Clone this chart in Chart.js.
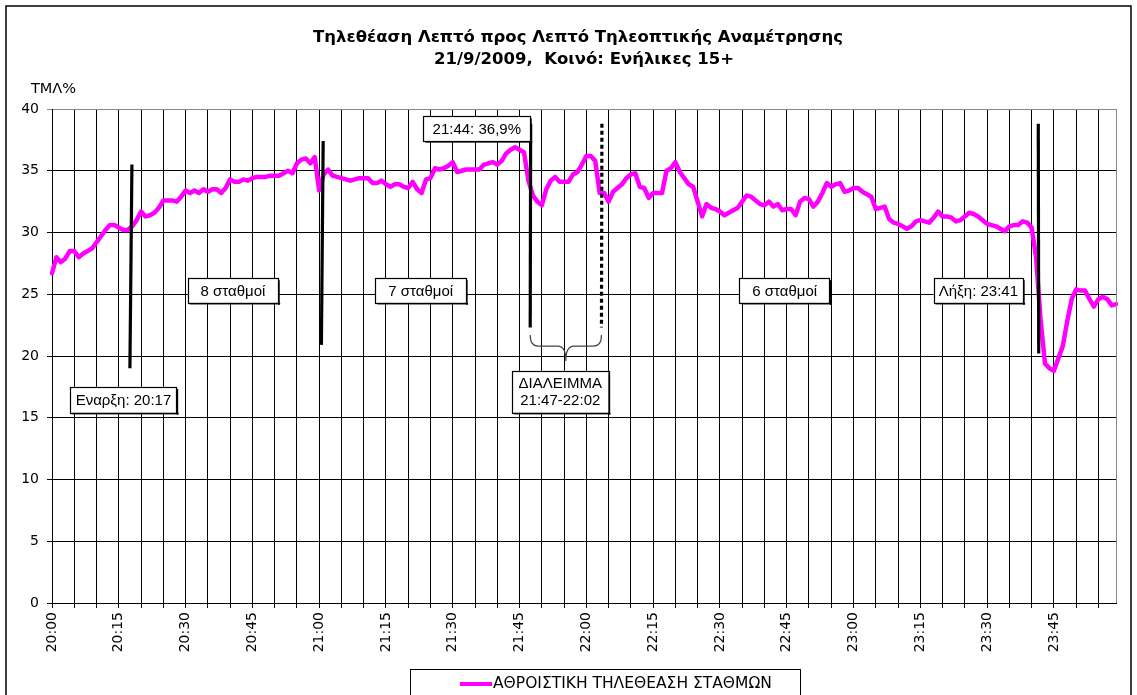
<!DOCTYPE html>
<html><head><meta charset="utf-8">
<script src="https://cdn.jsdelivr.net/npm/chart.js@4.4.0/dist/chart.umd.min.js"></script>
<style>html,body{margin:0;padding:0;background:#fff;}#wrap{width:1137px;height:695px;position:relative;}</style>
</head><body><div id="wrap"><canvas id="c" width="1137" height="695"></canvas></div>
<script>
// ---------- DATA ----------
const titleLines = ['Τηλεθέαση Λεπτό προς Λεπτό Τηλεοπτικής Αναμέτρησης', '21/9/2009,  Κοινό: Ενήλικες 15+'];
const yUnitLabel = 'ΤΜΛ%';
const seriesName = 'ΑΘΡΟΙΣΤΙΚΗ ΤΗΛΕΘΕΑΣΗ ΣΤΑΘΜΩΝ';
// one category per minute, 20:00 .. 23:59
const categories = [];
for (let h = 20; h < 24; h++) for (let mm = 0; mm < 60; mm++) categories.push(h + ':' + String(mm).padStart(2, '0'));
const tickLabels = ['20:00','20:15','20:30','20:45','21:00','21:15','21:30','21:45','22:00','22:15','22:30','22:45','23:00','23:15','23:30','23:45'];
const yTicks = [0,5,10,15,20,25,30,35,40];
const ratings = [
 26.7,28.0,27.6,27.9,28.5,28.5,28.0,28.3,28.5,28.7, 29.2,29.7,30.2,30.6,30.6,30.4,30.2,30.2,30.5,31.0,
 31.7,31.3,31.4,31.6,32.0,32.6,32.6,32.6,32.5,32.9, 33.4,33.2,33.4,33.2,33.5,33.3,33.5,33.5,33.2,33.6,
 34.3,34.1,34.1,34.3,34.2,34.4,34.5,34.5,34.5,34.6, 34.6,34.6,34.8,35.0,34.8,35.6,35.9,36.0,35.6,36.1,
 33.4,34.7,35.1,34.6,34.5,34.4,34.3,34.2,34.3,34.4, 34.4,34.4,34.0,34.0,34.2,33.9,33.7,33.9,33.9,33.7,
 33.6,34.1,33.5,33.2,34.3,34.4,35.2,35.1,35.2,35.4, 35.7,34.9,35.0,35.1,35.1,35.1,35.1,35.5,35.6,35.7,
 35.5,35.8,36.4,36.7,36.9,36.7,36.5,34.2,33.0,32.5, 32.2,33.5,34.2,34.5,34.1,34.1,34.1,34.7,34.9,35.5,
 36.2,36.2,35.8,33.2,33.2,32.5,33.3,33.6,33.9,34.4, 34.7,34.8,33.7,33.6,32.8,33.2,33.2,33.2,35.0,35.2,
 35.7,34.9,34.4,33.9,33.7,32.5,31.3,32.3,32.0,31.9, 31.7,31.4,31.6,31.8,32.0,32.5,33.0,32.9,32.6,32.3,
 32.2,32.5,32.1,32.3,31.8,31.9,31.9,31.4,32.5,32.8, 32.7,32.1,32.5,33.2,34.0,33.7,33.9,34.0,33.3,33.4,
 33.6,33.6,33.3,33.1,32.9,31.9,32.0,32.1,31.1,30.8, 30.7,30.5,30.3,30.5,30.9,31.0,30.9,30.8,31.2,31.7,
 31.3,31.3,31.2,30.9,31.0,31.3,31.6,31.5,31.3,31.0, 30.7,30.6,30.5,30.3,30.1,30.5,30.6,30.6,30.9,30.8,
 30.4,28.0,23.0,19.4,19.0,18.8,19.8,20.8,22.8,24.6, 25.4,25.3,25.3,24.6,24.0,24.6,24.8,24.6,24.1,24.2
];
// annotation content
const markerTexts = ['Εναρξη: 20:17','8 σταθμοί','7 σταθμοί','21:44: 36,9%','6 σταθμοί','Λήξη: 23:41'];
const breakText = ['ΔΙΑΛΕΙΜΜΑ','21:47-22:02'];

// ---------- annotation layout (data units: minute index / rating value) ----------
const textBoxes = [
  {t:0, m0:4.1, m1:28.0, v0:15.4, v1:17.5},
  {t:1, m0:30.5, m1:50.8, v0:24.3, v1:26.3},
  {t:2, m0:72.6, m1:93.0, v0:24.3, v1:26.3},
  {t:3, m0:83.4, m1:107.4, v0:37.4, v1:39.4},
  {t:4, m0:154.4, m1:174.7, v0:24.3, v1:26.3},
  {t:5, m0:198.0, m1:218.1, v0:24.3, v1:26.3}
];
const breakBox = {m0:103.3, m1:125.0, v0:15.4, v1:18.8};
const bars = [
  {mTop:17.95, mBot:17.5, vTop:35.5, vBot:19.0, dotted:false},
  {mTop:60.9, mBot:60.5, vTop:37.4, vBot:20.9, dotted:false},
  {mTop:107.5, mBot:107.4, vTop:38.8, vBot:22.3, dotted:false},
  {mTop:123.5, mBot:123.4, vTop:38.8, vBot:22.3, dotted:true},
  {mTop:221.5, mBot:221.6, vTop:38.8, vBot:20.2, dotted:false}
];
const brace = {m0:107.4, m1:123.4, vTop:21.7, vMid:20.8, vTip:19.6};

const TICK_FONT = {family:'DejaVu Sans', size:14};
const NOTE_FONT = '15px "Liberation Sans", Arial, sans-serif';

const overlay = {
  id:'overlay',
  beforeDraw(chart){
    const c = chart.ctx; c.save(); c.fillStyle='#fff'; c.fillRect(0,0,chart.width,chart.height); c.restore();
  },
  afterDatasetsDraw(chart){
    const c = chart.ctx, xs = chart.scales.x, ys = chart.scales.y;
    const X = m => xs.getPixelForValue(m), Y = v => ys.getPixelForValue(v);
    c.save();
    bars.forEach(b => {
      c.beginPath(); c.strokeStyle='#000'; c.lineWidth=3.2;
      c.setLineDash(b.dotted ? [4,3] : []);
      c.moveTo(X(b.mTop), Y(b.vTop)); c.lineTo(X(b.mBot), Y(b.vBot)); c.stroke();
    });
    c.setLineDash([]);
    const bl = X(brace.m0), br = X(brace.m1), bc = (bl+br)/2, yt = Y(brace.vTop), ym = Y(brace.vMid), yp = Y(brace.vTip);
    c.beginPath(); c.strokeStyle='#444'; c.lineWidth=1.2;
    c.moveTo(bl, yt); c.quadraticCurveTo(bl, ym, bl+8, ym); c.lineTo(bc-8, ym); c.quadraticCurveTo(bc, ym, bc, yp);
    c.quadraticCurveTo(bc, ym, bc+8, ym); c.lineTo(br-8, ym); c.quadraticCurveTo(br, ym, br, yt); c.stroke();
    const drawBox = (x0, y0, x1, y1) => {
      c.fillStyle='#fff'; c.fillRect(x0, y0, x1-x0, y1-y0);
      c.fillStyle='#000';
      c.fillRect(x0+2, y1, x1-x0, 1.5); c.fillRect(x1, y0+2, 1.5, y1-y0);
      c.strokeStyle='#000'; c.lineWidth=1.2; c.strokeRect(Math.round(x0)+0.5, Math.round(y0)+0.5, Math.round(x1-x0), Math.round(y1-y0));
    };
    c.font = NOTE_FONT; c.textBaseline='middle'; c.textAlign='center';
    textBoxes.forEach(b => {
      const x0 = X(b.m0), x1 = X(b.m1), y0 = Y(b.v1), y1 = Y(b.v0);
      drawBox(x0, y0, x1, y1);
      c.fillStyle='#000'; c.fillText(markerTexts[b.t], (x0+x1)/2, (y0+y1)/2+1);
    });
    {
      const x0 = X(breakBox.m0), x1 = X(breakBox.m1), y0 = Y(breakBox.v1), y1 = Y(breakBox.v0);
      drawBox(x0, y0, x1, y1);
      c.fillStyle='#000';
      c.fillText(breakText[0], (x0+x1)/2, y0 + (y1-y0)*0.3);
      c.fillText(breakText[1], (x0+x1)/2, y0 + (y1-y0)*0.72);
    }
    c.restore();
  },
  afterDraw(chart){
    const c = chart.ctx, a = chart.chartArea;
    c.save();
    c.strokeStyle='#888'; c.lineWidth=1;
    c.beginPath(); c.moveTo(Math.round(a.right)+0.5, a.top); c.lineTo(Math.round(a.right)+0.5, a.bottom); c.stroke();
    c.strokeStyle='#000'; c.lineWidth=1.5;
    c.beginPath(); c.moveTo(6, 700); c.lineTo(6, 6); c.lineTo(1131, 6); c.lineTo(1131, 700); c.stroke();
    c.fillStyle='#000'; c.textAlign='center'; c.textBaseline='middle';
    c.font = 'bold 16.5px "DejaVu Sans", sans-serif';
    c.fillText(titleLines[0], 578, 38);
    c.fillText(titleLines[1], 584, 60);
    c.font = '14.5px "DejaVu Sans", sans-serif';
    c.textAlign='left';
    c.fillText(yUnitLabel, 31, 89);
    c.strokeStyle='#000'; c.lineWidth=1;
    c.strokeRect(410.5, 669.5, 390, 40);
    c.strokeStyle = chart.data.datasets[0].borderColor; c.lineWidth=4;
    c.beginPath(); c.moveTo(460, 684); c.lineTo(492, 684); c.stroke();
    c.fillStyle='#000'; c.font='15.5px "DejaVu Sans", sans-serif'; c.textAlign='left';
    c.fillText(chart.data.datasets[0].label, 493, 684);
    c.restore();
  }
};

new Chart(document.getElementById('c'), {
  type:'line',
  data:{ labels:categories, datasets:[{
    label:seriesName, data:ratings, borderColor:'#FF00FF', borderWidth:4.5,
    pointRadius:0, tension:0, borderJoinStyle:'round', borderCapStyle:'round', fill:false
  }]},
  options:{
    responsive:false, animation:false, devicePixelRatio:1,
    layout:{ padding:{left:6, right:16, top:109, bottom:0} },
    plugins:{ legend:{display:false}, title:{display:false}, tooltip:{enabled:false} },
    scales:{
      x:{
        type:'category', offset:false,
        grid:{ color: ctx => (ctx.index % 5 === 0 ? '#000' : 'rgba(0,0,0,0)'), tickLength:5, lineWidth:1 },
        border:{ color:'#000', width:1 },
        ticks:{ autoSkip:false, minRotation:90, maxRotation:90, padding:4, color:'#000', font:TICK_FONT,
          callback:(v,i) => tickLabels.includes(categories[i]) ? categories[i] : '' },
        afterFit: s => { s.height = 92; }
      },
      y:{
        min:0, max:40,
        afterBuildTicks: s => { s.ticks = yTicks.map(v => ({value:v})); },
        grid:{ color: ctx => (ctx.tick && ctx.tick.value === 40 ? '#888' : '#000'), tickLength:5, lineWidth:1 },
        border:{ color:'#000', width:1 },
        ticks:{ padding:8, color:'#000', font:TICK_FONT },
        afterFit: s => { s.width = 46; }
      }
    }
  },
  plugins:[overlay]
});
</script>
</body></html>
